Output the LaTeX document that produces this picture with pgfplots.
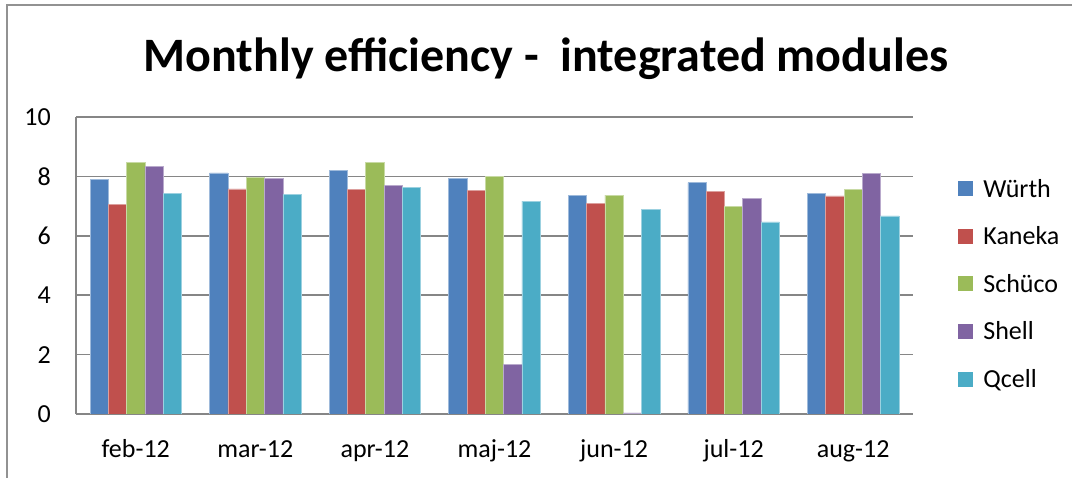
\documentclass[border=0pt]{standalone}
\usepackage{fontspec}
\setmainfont{Carlito}
\usepackage{pgfplots}
\pgfplotsset{compat=1.18}
\definecolor{cA}{HTML}{4F81BD}
\definecolor{cB}{HTML}{C0504D}
\definecolor{cC}{HTML}{9BBB59}
\definecolor{cD}{HTML}{8064A2}
\definecolor{cE}{HTML}{4BACC6}
\definecolor{gridg}{HTML}{868686}
\begin{document}
\begin{tikzpicture}[x=1pt,y=1pt]
\path[use as bounding box] (0,0) rectangle (1072,478);
\draw[gridg!90, line width=1.5pt] (7,0) -- (7,473) -- (1072,473);
\node[anchor=base, inner sep=0pt, font=\fontsize{48}{52}\selectfont\bfseries] at (546,406) {Monthly efficiency -\ \ integrated modules};
\begin{axis}[
  at={(76pt,64pt)}, anchor=south west,
  scale only axis, width=837pt, height=297pt,
  ybar=0pt, bar width=18.3pt,
  xmin=-0.5, xmax=6.5, ymin=0, ymax=10,
  ytick={0,2,4,6,8,10},
  xtick={0,1,2,3,4,5,6},
  xticklabels={feb-12,mar-12,apr-12,maj-12,jun-12,jul-12,aug-12},
  axis x line*=bottom, axis y line*=left,
  axis line style={gridg, line width=1.6pt},
  ymajorgrids, grid style={gridg, line width=1.6pt},
  major tick length=0pt,
  /pgf/number format/assume math mode=true,
  tick label style={font=\fontsize{26}{30}\selectfont},
  yticklabel style={anchor=east, inner sep=0pt, xshift=-25pt},
  xticklabel style={anchor=base, inner sep=0pt, yshift=-44pt},
  legend style={at={(axis description cs:1.054,0.438)}, anchor=west, draw=none, fill=none,
    font=\fontsize{26}{30}\selectfont, inner sep=0pt, row sep=24pt, column sep=8pt,
    cells={anchor=west}},
  legend image code/.code={\fill[#1,draw=none] (0pt,-7.5pt) rectangle (15pt,7.5pt);},
]
\addplot[fill=cA, draw=cA!55!white, line width=0.6pt] coordinates {(0,7.90) (1,8.12) (2,8.21) (3,7.93) (4,7.35) (5,7.79) (6,7.44)};
\addplot[fill=cB, draw=cB!55!white, line width=0.6pt] coordinates {(0,7.06) (1,7.58) (2,7.57) (3,7.54) (4,7.08) (5,7.49) (6,7.34)};
\addplot[fill=cC, draw=cC!55!white, line width=0.6pt] coordinates {(0,8.46) (1,7.96) (2,8.46) (3,8.00) (4,7.37) (5,7.00) (6,7.57)};
\addplot[fill=cD, draw=cD!55!white, line width=0.6pt] coordinates {(0,8.33) (1,7.93) (2,7.71) (3,1.67) (4,0.04) (5,7.25) (6,8.10)};
\addplot[fill=cE, draw=cE!55!white, line width=0.6pt] coordinates {(0,7.44) (1,7.40) (2,7.64) (3,7.17) (4,6.90) (5,6.47) (6,6.67)};
\legend{Würth,Kaneka,Schüco,Shell,Qcell}
\end{axis}
\end{tikzpicture}
\end{document}
